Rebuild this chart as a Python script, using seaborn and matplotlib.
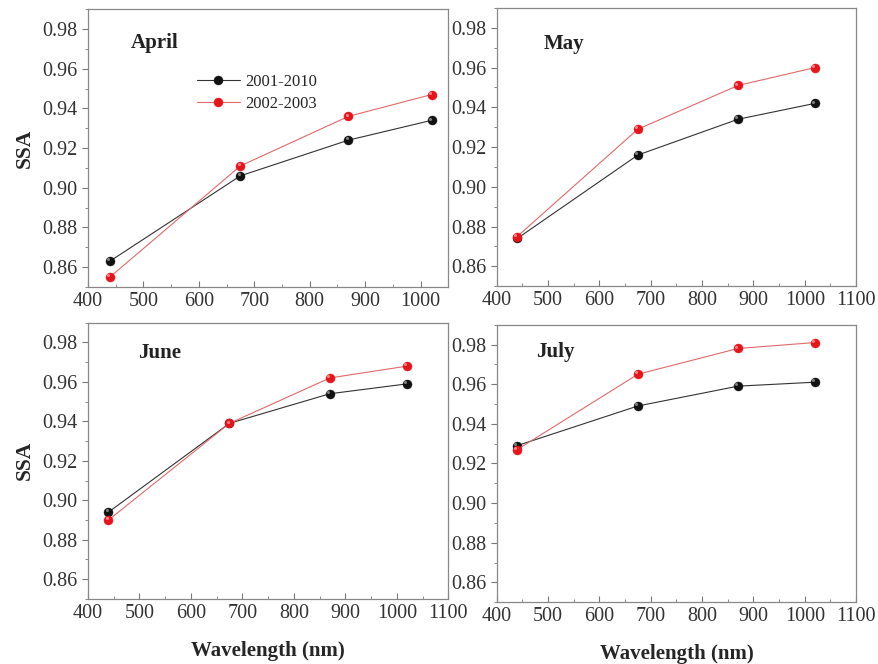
import numpy as np
import pandas as pd
import matplotlib
matplotlib.use("Agg")
import matplotlib.pyplot as plt
from matplotlib.ticker import MultipleLocator
from matplotlib.transforms import offset_copy
import seaborn as sns

wavelength = [440, 675, 870, 1020]
months = ["April", "May", "June", "July"]
periods = ["2001-2010", "2002-2003"]

ssa_2001_2010 = {
    "April": [0.863, 0.906, 0.924, 0.934],
    "May": [0.874, 0.916, 0.934, 0.942],
    "June": [0.894, 0.939, 0.954, 0.959],
    "July": [0.929, 0.949, 0.959, 0.961],
}
ssa_2002_2003 = {
    "April": [0.855, 0.911, 0.936, 0.947],
    "May": [0.875, 0.929, 0.951, 0.960],
    "June": [0.890, 0.939, 0.962, 0.968],
    "July": [0.927, 0.965, 0.978, 0.981],
}

rows = []
for m in months:
    for p, src in zip(periods, [ssa_2001_2010, ssa_2002_2003]):
        for w, v in zip(wavelength, src[m]):
            rows.append({"month": m, "period": p, "wl": w, "ssa": v})
df = pd.DataFrame(rows)

sns.set_style("ticks")
plt.rcParams["font.family"] = ["Liberation Serif", "DejaVu Serif"]

palette = {"2001-2010": "#111111", "2002-2003": "#e8141c"}
line_colors = {"2001-2010": "#333333", "2002-2003": "#e06a6a"}
shine = {"2001-2010": "#9a9a9a", "2002-2003": "#ffa0a0"}

fig = plt.figure(figsize=(8.79, 6.64), dpi=100)
boxes = {
    "April": [0.100, 0.568, 0.410, 0.418],
    "May": [0.565, 0.569, 0.409, 0.419],
    "June": [0.100, 0.098, 0.410, 0.416],
    "July": [0.565, 0.093, 0.409, 0.418],
}
label_pos = {"April": (0.12, 0.88), "May": (0.13, 0.87), "June": (0.14, 0.89), "July": (0.11, 0.90)}
xmax = {"April": 1050, "May": 1100, "June": 1100, "July": 1100}

for m in months:
    ax = fig.add_axes(boxes[m])
    sub = df[df.month == m]
    for p in periods:
        s = sub[sub.period == p]
        sns.lineplot(data=s, x="wl", y="ssa", ax=ax, color=line_colors[p], lw=0.8,
                     marker="o", markersize=6.5, markerfacecolor=palette[p],
                     markeredgecolor=palette[p], markeredgewidth=0.3, label=p,
                     legend=(m == "April"))
        # small highlight up-left to mimic the shaded balls
        tr = offset_copy(ax.transData, fig=fig, x=-1.3, y=1.3, units="points")
        ax.plot(s.wl, s.ssa, ls="none", marker="o", markersize=2.2, markeredgewidth=0,
                color=shine[p], alpha=0.8, transform=tr)
    ax.set_xlim(400, xmax[m])
    ax.set_ylim(0.85, 0.99)
    ax.xaxis.set_major_locator(MultipleLocator(100))
    ax.xaxis.set_minor_locator(MultipleLocator(50))
    ax.yaxis.set_major_locator(MultipleLocator(0.02))
    ax.yaxis.set_minor_locator(MultipleLocator(0.01))
    ax.yaxis.set_major_formatter(plt.FuncFormatter(lambda v, _: f"{v:.2f}"))
    ax.tick_params(axis="x", which="both", direction="in", colors="#777777", labelcolor="#333333", labelsize=14.5)
    ax.tick_params(axis="y", which="both", direction="out", colors="#777777", labelcolor="#333333", labelsize=14.5)
    ax.tick_params(which="major", length=4)
    ax.tick_params(which="minor", length=2.5)
    for sp in ax.spines.values():
        sp.set_visible(True)
        sp.set_color("#888888")
        sp.set_linewidth(0.9)
    ax.text(*label_pos[m], m, transform=ax.transAxes, fontsize=15, fontweight="bold",
            color="#222222", va="center")
    ax.set_xlabel("")
    ax.set_ylabel("")
    if m in ("April", "June"):
        ax.set_ylabel("SSA", fontsize=15.5, fontweight="bold", labelpad=5)
    if m in ("June", "July"):
        ax.set_xlabel("Wavelength (nm)", fontsize=15, fontweight="bold", labelpad=13)
    if m == "April":
        h, l = ax.get_legend_handles_labels()
        ax.legend(h[:2], l[:2], loc="upper left", bbox_to_anchor=(0.26, 0.82), frameon=False,
                  fontsize=12, handlelength=2.6, handletextpad=0.3, labelspacing=0.35)

fig.savefig("out.png", dpi=100)
